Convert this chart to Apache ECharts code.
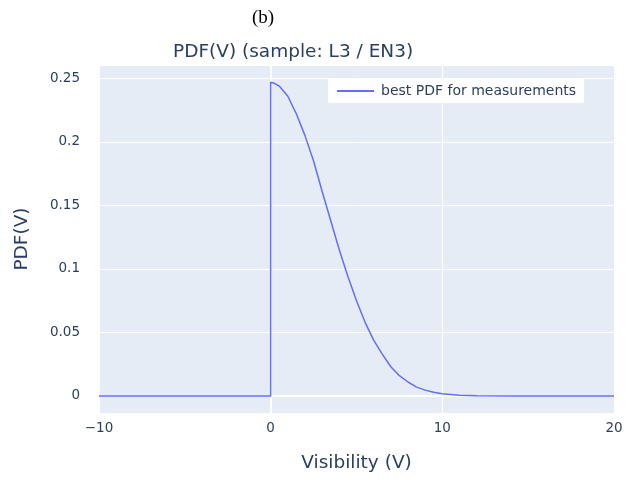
<!DOCTYPE html>
<html style="height: 100%">
<head>
<meta charset="utf-8">
</head>
<body style="height: 100%; margin: 0">
<div id="container" style="width: 635px; height: 478px"></div>
<script type="text/javascript" src="https://cdn.jsdelivr.net/npm/echarts@6/dist/echarts.min.js"></script>
<script type="text/javascript">
// values
var visibility = [-10, -5, 0, 0, 0.25, 0.5, 1, 1.5, 2, 2.5, 3, 3.5, 4, 4.5, 5, 5.5, 6, 6.5, 7, 7.5, 8, 8.5, 9, 9.5, 10, 11, 12, 14, 17, 20];
var pdf = [0, 0, 0, 0.247, 0.246, 0.244, 0.236, 0.222, 0.205, 0.185, 0.161, 0.138, 0.115, 0.094, 0.075, 0.058, 0.044, 0.033, 0.023, 0.016, 0.011, 0.007, 0.0046, 0.003, 0.0018, 0.0006, 0.0002, 0, 0, 0];
var xTicks = [-10, 0, 10, 20];

var seriesName = 'best PDF for measurements';
var txt = '#2a3f5f';

var dom = document.getElementById('container');
var myChart = echarts.init(dom);

var lineData = [];
for (var i = 0; i < visibility.length; i++) {
    lineData.push([visibility[i], pdf[i]]);
}

var option = {
    animation: false,
    backgroundColor: '#ffffff',
    title: [{
        text: '(b)',
        left: 252,
        top: 9,
        padding: 0,
        textStyle: {fontFamily: 'Liberation Serif', fontSize: 19, fontWeight: 'normal', color: '#000'}
    }, {
        text: 'PDF(V) (sample: L3 / EN3)',
        left: 173,
        top: 43,
        padding: 0,
        textStyle: {fontFamily: 'DejaVu Sans', fontSize: 18.5, fontWeight: 'normal', color: txt}
    }],
    legend: {
        data: [seriesName],
        left: 328,
        top: 79,
        padding: [5, 8, 5, 8],
        backgroundColor: '#ffffff',
        itemWidth: 37,
        itemHeight: 14,
        itemStyle: {opacity: 0},
        textStyle: {fontFamily: 'DejaVu Sans', fontSize: 14, color: txt, padding: [0, 0, 0, 2]}
    },
    grid: {
        left: 99,
        right: 21,
        top: 65,
        bottom: 65,
        show: true,
        backgroundColor: '#e5ecf6',
        borderWidth: 0
    },
    xAxis: {
        type: 'value',
        min: xTicks[0],
        max: xTicks[xTicks.length - 1],
        interval: 10,
        name: 'Visibility (V)',
        nameLocation: 'middle',
        nameGap: 41,
        nameTextStyle: {fontFamily: 'DejaVu Sans', fontSize: 18.5, color: txt},
        axisLine: {show: false},
        axisTick: {show: false},
        axisLabel: {
            fontFamily: 'DejaVu Sans', fontSize: 13.5, color: txt, margin: 8,
            formatter: function (v) { return String(v).replace('-', '\u2212'); }
        },
        splitLine: {lineStyle: {color: '#ffffff', width: 1}}
    },
    yAxis: {
        type: 'value',
        min: -0.0134,
        max: 0.2606,
        splitNumber: 5,
        name: 'PDF(V)',
        nameLocation: 'middle',
        nameGap: 67,
        nameTextStyle: {fontFamily: 'DejaVu Sans', fontSize: 18.5, color: txt},
        axisLine: {show: false},
        axisTick: {show: false},
        axisLabel: {
            fontFamily: 'DejaVu Sans', fontSize: 13.5, color: txt, margin: 19,
            showMinLabel: false, showMaxLabel: false
        },
        splitLine: {lineStyle: {color: '#ffffff', width: 1}}
    },
    series: [{
        // zero lines, drawn under the data
        name: 'zero',
        type: 'line',
        data: [],
        z: 1,
        silent: true,
        markLine: {
            silent: true,
            z: 1,
            symbol: 'none',
            animation: false,
            label: {show: false},
            lineStyle: {color: '#ffffff', width: 2, type: 'solid'},
            data: [{xAxis: 0}, {yAxis: 0}]
        }
    }, {
        name: seriesName,
        type: 'line',
        data: lineData,
        z: 3,
        symbol: 'none',
        smooth: false,
        color: '#636efa',
        lineStyle: {color: '#636efa', width: 1.5}
    }]
};

myChart.setOption(option);
</script>
</body>
</html>
